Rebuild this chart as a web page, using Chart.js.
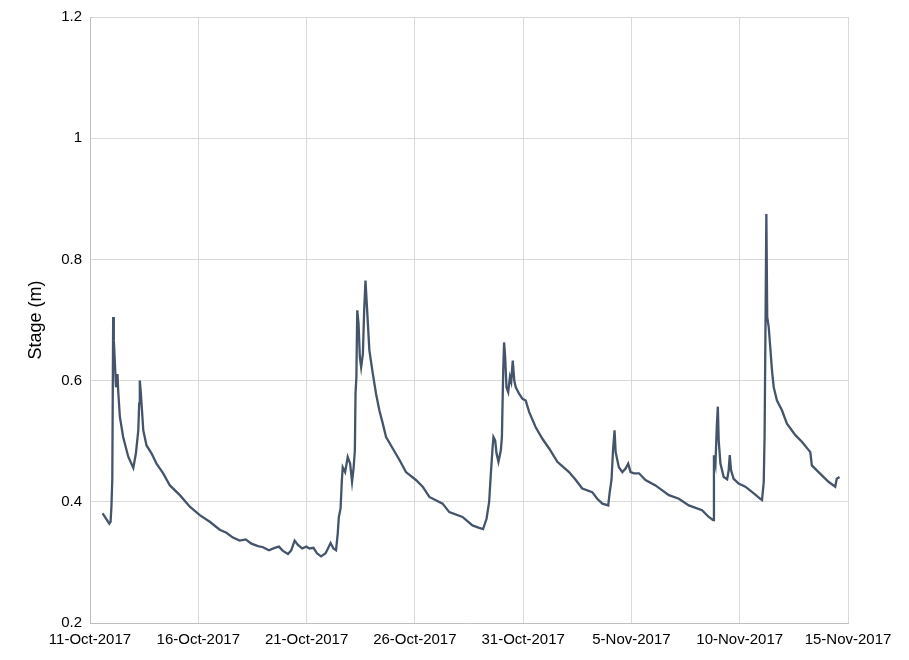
<!DOCTYPE html>
<html lang="en">

<head>
    <meta charset="UTF-8">
    <meta name="viewport" content="width=device-width, initial-scale=1.0">
    <title>Stage hydrograph</title>
    <script src="https://cdn.jsdelivr.net/npm/chart.js@4.4.0/dist/chart.umd.min.js"></script>
    <style>
        body { margin: 0; background: #fff; }
        #wrap { width: 909px; height: 660px; }
    </style>
</head>

<body>
    <div id="wrap"><canvas id="chart" width="909" height="660"></canvas></div>
    <script>
        // days since 11-Oct-2017
        const stageDays = [
            0.58, 0.75, 0.89, 0.95, 0.99, 1.03, 1.07, 1.10, 1.15, 1.20, 1.27, 1.30, 1.38, 1.53, 1.77,
            2.00, 2.12, 2.23, 2.27, 2.30, 2.35, 2.40, 2.46, 2.61, 2.84, 3.07, 3.38, 3.69, 4.15, 4.61,
            5.07, 5.53, 5.99, 6.30, 6.60, 6.91, 7.19, 7.45, 7.76, 7.99, 8.26, 8.53, 8.72, 8.91, 9.14,
            9.29, 9.45, 9.60, 9.80, 9.98, 10.14, 10.32, 10.48, 10.67, 10.88, 11.11, 11.24, 11.36, 11.44, 11.49,
            11.57, 11.63, 11.67, 11.78, 11.90, 12.01, 12.10, 12.17, 12.23, 12.26, 12.30, 12.34, 12.40, 12.46, 12.52,
            12.60, 12.66, 12.72, 12.78, 12.84, 12.90, 13.06, 13.21, 13.36, 13.52, 13.67, 13.98, 14.29, 14.59, 15.05,
            15.36, 15.67, 16.28, 16.59, 17.20, 17.66, 17.97, 18.15, 18.31, 18.43, 18.51, 18.59, 18.63, 18.71, 18.77,
            18.86, 18.97, 19.02, 19.05, 19.08, 19.12, 19.17, 19.23, 19.31, 19.39, 19.45, 19.52, 19.59, 19.66, 19.82,
            19.97, 20.12, 20.28, 20.58, 20.89, 21.20, 21.58, 22.12, 22.43, 22.73, 23.19, 23.42, 23.66, 23.93, 23.99,
            24.08, 24.15, 24.22, 24.27, 24.42, 24.58, 24.73, 24.85, 24.96, 25.12, 25.35, 25.65, 26.11, 26.73, 27.19,
            27.65, 28.26, 28.57, 28.77, 28.81, 28.88, 28.94, 28.99, 29.03, 29.11, 29.26, 29.42, 29.49, 29.54, 29.60,
            29.72, 29.95, 30.26, 30.65, 30.95, 31.03, 31.11, 31.15, 31.20, 31.23, 31.27, 31.34, 31.41, 31.49, 31.57,
            31.72, 31.95, 32.18, 32.57, 32.87, 33.26, 33.33, 33.64, 34.10, 34.41, 34.48, 34.61
        ];

        const stageMetres = [
            0.381, 0.372, 0.364, 0.367, 0.392, 0.438, 0.705, 0.666, 0.628, 0.589, 0.611, 0.584, 0.540, 0.507, 0.474,
            0.456, 0.480, 0.518, 0.562, 0.600, 0.578, 0.551, 0.518, 0.493, 0.480, 0.463, 0.447, 0.427, 0.411, 0.392,
            0.378, 0.367, 0.354, 0.349, 0.341, 0.336, 0.338, 0.331, 0.327, 0.325, 0.320, 0.324, 0.326, 0.319, 0.314,
            0.320, 0.336, 0.329, 0.323, 0.326, 0.323, 0.324, 0.315, 0.310, 0.315, 0.332, 0.323, 0.320, 0.348, 0.375,
            0.389, 0.436, 0.457, 0.449, 0.474, 0.463, 0.433, 0.455, 0.485, 0.578, 0.606, 0.716, 0.694, 0.639, 0.622,
            0.644, 0.716, 0.765, 0.727, 0.688, 0.650, 0.611, 0.578, 0.551, 0.529, 0.507, 0.488, 0.469, 0.449, 0.436,
            0.425, 0.408, 0.397, 0.383, 0.375, 0.361, 0.357, 0.355, 0.372, 0.400, 0.447, 0.490, 0.507, 0.501, 0.480,
            0.466, 0.485, 0.507, 0.562, 0.617, 0.663, 0.639, 0.589, 0.581, 0.606, 0.598, 0.633, 0.600, 0.589, 0.578,
            0.570, 0.567, 0.548, 0.523, 0.504, 0.488, 0.466, 0.449, 0.436, 0.422, 0.416, 0.405, 0.397, 0.394, 0.414,
            0.436, 0.485, 0.518, 0.482, 0.457, 0.449, 0.455, 0.463, 0.449, 0.447, 0.447, 0.436, 0.427, 0.411, 0.405,
            0.394, 0.386, 0.375, 0.370, 0.477, 0.463, 0.523, 0.557, 0.501, 0.463, 0.441, 0.437, 0.452, 0.477, 0.452,
            0.438, 0.430, 0.425, 0.414, 0.405, 0.403, 0.433, 0.513, 0.732, 0.875, 0.705, 0.688, 0.655, 0.617, 0.589,
            0.567, 0.551, 0.529, 0.510, 0.499, 0.482, 0.460, 0.449, 0.433, 0.425, 0.438, 0.441
        ];

        const dateLabels = ['11-Oct-2017', '16-Oct-2017', '21-Oct-2017', '26-Oct-2017',
            '31-Oct-2017', '5-Nov-2017', '10-Nov-2017', '15-Nov-2017'];

        const points = stageDays.map((d, i) => ({ x: d, y: stageMetres[i] }));

        const ctx = document.getElementById('chart').getContext('2d');
        const myChart = new Chart(ctx, {
            type: 'line',
            data: {
                datasets: [{
                    label: 'Stage',
                    data: points,
                    borderColor: '#44546a',
                    borderWidth: 2.3,
                    pointRadius: 0,
                    tension: 0,
                    fill: false
                }]
            },
            options: {
                responsive: false,
                animation: false,
                layout: { padding: { left: 0, right: 61, top: 16, bottom: 0 } },
                plugins: {
                    legend: { display: false },
                    tooltip: { enabled: false }
                },
                scales: {
                    x: {
                        type: 'linear',
                        min: 0,
                        max: 35,
                        afterBuildTicks: axis => {
                            axis.ticks = dateLabels.map((t, i) => ({ value: i * 5 }));
                        },
                        afterFit: axis => { axis.height = 37; },
                        ticks: {
                            color: '#000',
                            font: { family: 'Liberation Sans', size: 15 },
                            maxRotation: 0,
                            autoSkip: false,
                            padding: 8,
                            callback: (value, index) => dateLabels[index]
                        },
                        grid: { color: '#d9d9d9', drawTicks: false },
                        border: { color: '#bfbfbf' }
                    },
                    y: {
                        min: 0.2,
                        max: 1.2,
                        afterFit: axis => { axis.width = 90; },
                        ticks: {
                            stepSize: 0.2,
                            color: '#000',
                            font: { family: 'Liberation Sans', size: 15 },
                            padding: 8,
                            callback: value => Math.round(value * 10) / 10
                        },
                        title: {
                            display: true,
                            text: 'Stage (m)',
                            color: '#000',
                            font: { family: 'Liberation Sans', size: 18 },
                            padding: { top: 25, bottom: 0 }
                        },
                        grid: { color: '#d9d9d9', drawTicks: false },
                        border: { color: '#bfbfbf' }
                    }
                }
            }
        });
    </script>
</body>

</html>
